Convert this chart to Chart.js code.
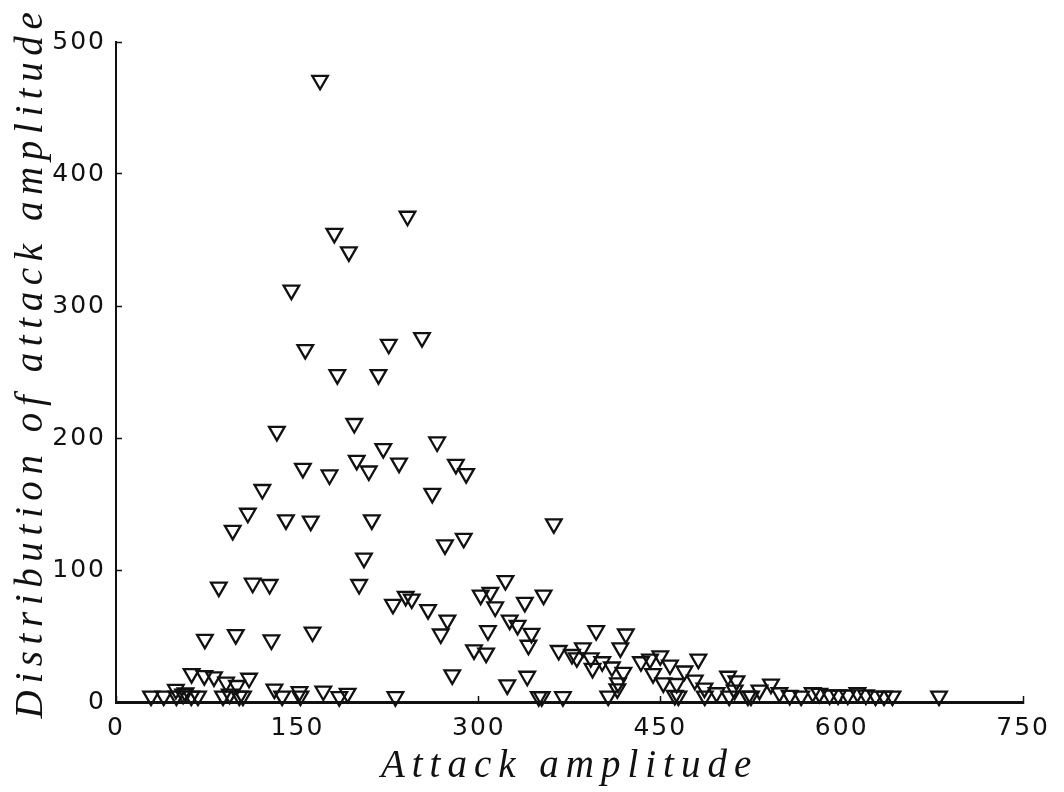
<!DOCTYPE html>
<html>
<head>
<meta charset="utf-8">
<title>Attack amplitude</title>
<script src="https://cdn.jsdelivr.net/npm/chart.js@4.4.1/dist/chart.umd.min.js"></script>
<style>
    html, body { margin: 0; padding: 0; background: #fff; }
    #wrap { width: 1064px; height: 792px; }
</style>
</head>
<body>
<div id="wrap"><canvas id="attackChart"></canvas></div>
<script>
// attack amplitude of each sample
let ampX = [
    168.7, 180.5, 192.5, 241, 145, 156.5, 183, 217, 225.5, 253,
    133, 197, 265.5, 221, 199, 209, 154.5, 176.5, 234, 281,
    289.5, 121, 261.5, 109, 96.5, 140.5, 161, 211.5, 362, 272,
    287.5, 205, 201, 85, 113, 127, 322, 301.5, 309.5, 353.5,
    338, 229, 239.5, 244.5, 258, 274, 268.5, 313.5, 307.5, 325.5,
    332, 343.5, 341, 296, 306, 73.5, 99, 128.5, 162.5, 278,
    340, 323.5, 366, 377, 386, 381, 392.5, 397, 421.5, 417,
    402, 394, 410, 419.5, 415, 414.5, 434, 441.5, 450, 458,
    444, 470, 481.5, 452.5, 463.5, 478.5, 486.5, 496.5, 506, 513,
    511.5, 532, 541.5, 548.5, 557, 566.5, 576, 581.5, 590, 597,
    605, 613, 620, 628, 635, 642, 680.5, 62.5, 73, 81,
    91, 100, 110, 49.5, 57.5, 131, 151.7, 171.4, 191.5, 29,
    39.5, 50, 55.5, 62.3, 67.8, 88.5, 94, 102, 105, 137.4,
    152.5, 184.6, 231, 349.5, 352, 369.5, 407, 462, 465, 486.8,
    507, 522.5, 525
];
// distribution of attack amplitude for the same samples
let distY = [
    471, 355, 341, 368, 312, 267, 248, 248, 271, 276,
    205, 211, 197, 192, 183, 175, 177, 172, 181, 180,
    173, 161, 158, 143, 130, 138, 137, 138, 135, 119,
    124, 109, 89, 87, 90, 89, 92, 81, 83, 81,
    75.5, 74, 80, 78, 70, 62, 51.5, 72, 54, 62,
    58, 52, 43, 39.5, 37, 47.5, 51, 47, 53, 20.5,
    19.5, 13, 39, 36, 41, 33.5, 33.5, 54, 51.5, 41,
    30.5, 25.5, 26.5, 22.5, 14.5, 10, 30.5, 32.5, 35, 28,
    21.5, 23.5, 32.5, 14.5, 14, 16.5, 10.5, 7, 19.5, 16,
    9, 9, 13.5, 7, 5, 4.5, 7, 6.5, 5.3, 5.3,
    5.3, 7, 5.3, 4.5, 4.5, 4.5, 4.5, 21.5, 20, 19,
    15, 12.5, 18, 9.5, 6.8, 9.8, 7.8, 8.3, 6.6, 4.5,
    4.5, 4.5, 6, 4.5, 4.5, 4.5, 6, 4.5, 4.5, 4.5,
    4.5, 4, 4, 4, 4, 4, 4.5, 5, 4.5, 4.5,
    4.5, 4.5, 4.5
];
let xTicks = [0, 150, 300, 450, 600, 750];
let yTicks = [0, 100, 200, 300, 400, 500];
let xTitle = 'Attack amplitude';
let yTitle = 'Distribution of attack amplitude';

// axis titles are drawn by hand so they can be letter-spaced
const axisTitles = {
    id: 'axisTitles',
    beforeDraw(chart) {
        chart.ctx.letterSpacing = '2px';
    },
    afterDraw(chart) {
        let ctx = chart.ctx;
        let area = chart.chartArea;
        ctx.save();
        ctx.fillStyle = '#111';
        ctx.font = 'italic 39px "Liberation Serif"';
        ctx.letterSpacing = '7px';
        ctx.textAlign = 'center';
        ctx.textBaseline = 'alphabetic';
        ctx.fillText(xTitle, (area.left + area.right) / 2, 777);
        ctx.letterSpacing = '6.6px';
        ctx.translate(42, 362);
        ctx.rotate(-Math.PI / 2);
        ctx.fillText(yTitle, 0, 0);
        ctx.restore();
    }
};

function manageAttackChart() {
    let points = ampX.map((x, i) => ({x: x, y: distY[i]}));
    let ctx = document.getElementById('attackChart').getContext('2d');
    let tickFont = {family: '"DejaVu Sans"', size: 25};
    let myChart = new Chart(ctx, {
        type: 'scatter',
        data: {
            datasets: [{
                data: points,
                pointStyle: 'triangle',
                rotation: 180,
                radius: 9,
                borderWidth: 2.3,
                borderColor: '#111',
                backgroundColor: 'rgba(0,0,0,0)',
                clip: false
            }]
        },
        plugins: [axisTitles],
        options: {
            responsive: true,
            maintainAspectRatio: false,
            animation: false,
            layout: {padding: {left: 0, right: 38, top: 42, bottom: 0}},
            plugins: {legend: {display: false}, tooltip: {enabled: false}},
            scales: {
                x: {
                    type: 'linear',
                    min: 0,
                    max: 750,
                    afterBuildTicks: s => { s.ticks = xTicks.map(v => ({value: v})); },
                    afterFit: s => { s.height = 90; },
                    grid: {drawOnChartArea: false, tickLength: -6, tickWidth: 1.5, tickColor: '#111'},
                    border: {display: true, color: '#111', width: 3},
                    ticks: {color: '#111', font: tickFont, padding: 17, maxRotation: 0, autoSkip: false}
                },
                y: {
                    type: 'linear',
                    min: 0,
                    max: 500,
                    afterBuildTicks: s => { s.ticks = yTicks.map(v => ({value: v})); },
                    afterFit: s => { s.width = 116; },
                    grid: {drawOnChartArea: false, tickLength: -6, tickWidth: 1.5, tickColor: '#111'},
                    border: {display: true, color: '#111', width: 2},
                    ticks: {color: '#111', font: tickFont, padding: 16, autoSkip: false}
                }
            }
        }
    });
}

document.addEventListener('DOMContentLoaded', function() {
    manageAttackChart();
});
</script>
</body>
</html>
